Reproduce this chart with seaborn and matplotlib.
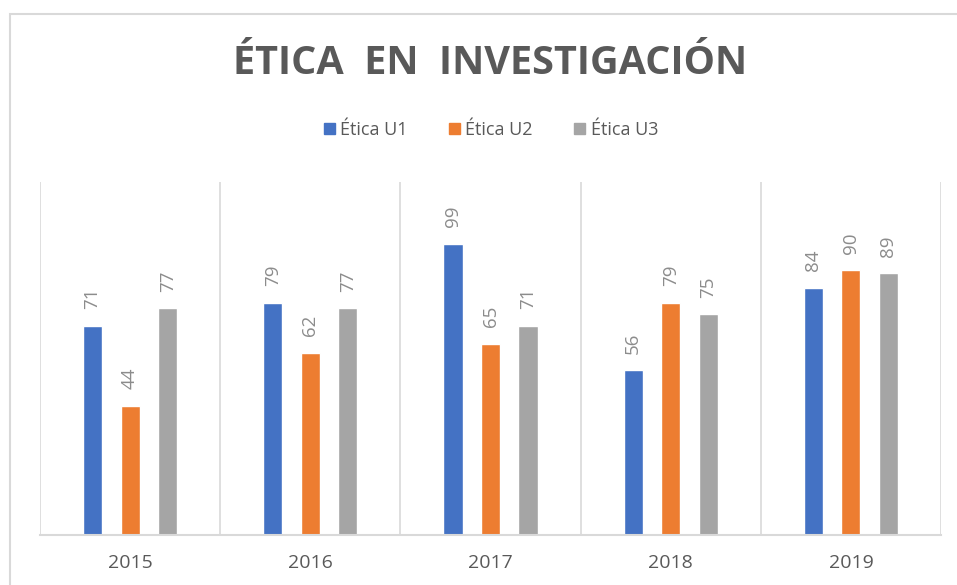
import matplotlib
matplotlib.use('Agg')
import matplotlib.pyplot as plt
import matplotlib.patches as mpatches
import seaborn as sns
import pandas as pd

# Data
years = ['2015', '2016', '2017', '2018', '2019']
series = ['Ética U1', 'Ética U2', 'Ética U3']
u1 = [71, 79, 99, 56, 84]
u2 = [44, 62, 65, 79, 90]
u3 = [77, 77, 71, 75, 89]
colors = ['#4472C4', '#ED7D31', '#A5A5A5']

df = pd.DataFrame({
    'year': years * 3,
    'serie': [s for s in series for _ in years],
    'valor': u1 + u2 + u3,
})

sns.set_style('white')
plt.rcParams['font.family'] = ['Open Sans', 'DejaVu Sans']

fig = plt.figure(figsize=(9.57, 5.85), dpi=100)
ax = fig.add_axes([40 / 957, 1 - 535 / 585, 901 / 957, 353 / 585])

sns.barplot(data=df, x='year', y='valor', hue='serie', palette=colors,
            saturation=1, width=0.625, gap=0.49, ax=ax, legend=False)

ax.set_ylim(0, 120)
ax.set_xlim(-0.5, 4.5)

# value labels
for cont in ax.containers:
    ax.bar_label(cont, rotation=90, padding=12, color='#8c8c8c', fontsize=13.5)

# separators between categories
for x in [-0.5, 0.5, 1.5, 2.5, 3.5, 4.5]:
    ax.axvline(x, color='#d9d9d9', lw=1.2, zorder=0)

for s in ['top', 'right', 'left']:
    ax.spines[s].set_visible(False)
ax.spines['bottom'].set_color('#d9d9d9')
ax.spines['bottom'].set_linewidth(1.5)
ax.set_yticks([])
ax.set_xlabel('')
ax.set_ylabel('')
ax.tick_params(axis='x', length=0, pad=14, labelsize=14, labelcolor='#595959')

# legend
handles = [mpatches.Patch(color=c, label=s) for c, s in zip(colors, series)]
fig.legend(handles=handles, loc='center', bbox_to_anchor=(491 / 957, 1 - 130 / 585),
           ncol=3, frameon=False, fontsize=13, handlelength=0.6, handleheight=0.6,
           handletextpad=0.3, columnspacing=2.3, labelcolor='#595959')

fig.text(490 / 957, 1 - 63 / 585, 'ÉTICA  EN  INVESTIGACIÓN', ha='center', va='center',
         fontsize=28.5, fontweight='bold', color='#595959')

# chart border
fig.patches.append(mpatches.Rectangle((10 / 957, -0.05), 1.05, 1 - 14 / 585 + 0.05,
                                      transform=fig.transFigure, fill=False,
                                      edgecolor='#d9d9d9', lw=1.5))

fig.savefig('out.png', dpi=100)
